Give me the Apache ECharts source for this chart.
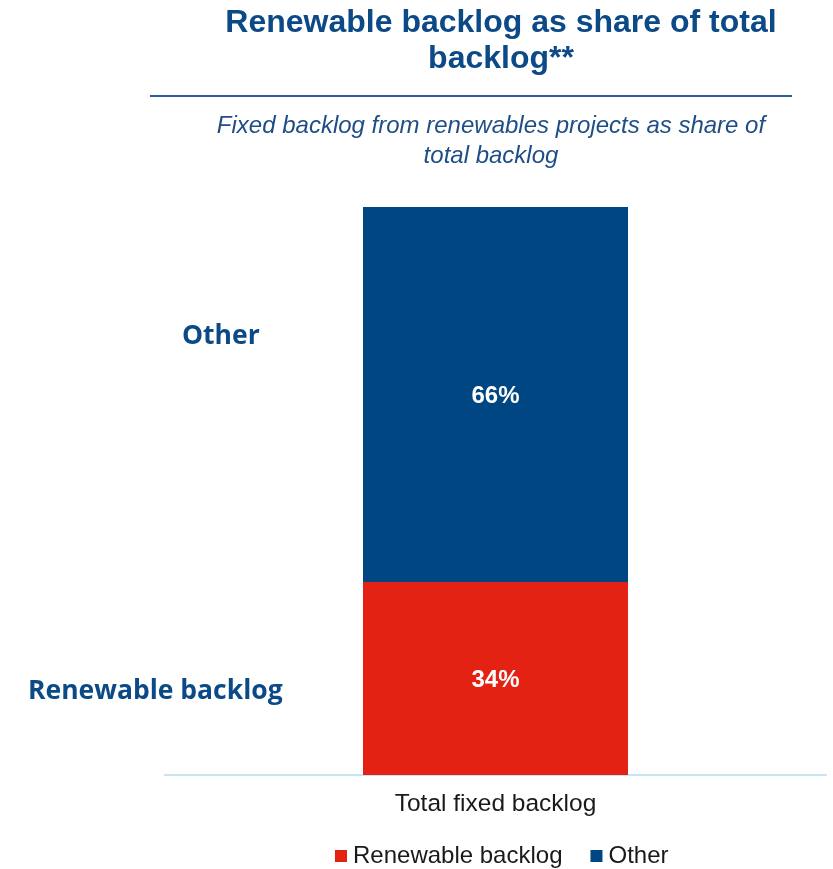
<!DOCTYPE html>
<html>
<head>
<meta charset="utf-8">
<script src="https://cdn.jsdelivr.net/npm/echarts@6/dist/echarts.min.js"></script>
<style>
html,body{margin:0;padding:0;background:#fff;}
#chart{width:833px;height:869px;}
</style>
</head>
<body>
<div id="chart"></div>
<script>
var categories = ['Total fixed backlog'];
var seriesNames = ['Renewable backlog', 'Other'];
var renewableValues = [34];
var otherValues = [66];
var titleText = 'Renewable backlog as share of total\nbacklog**';
var subtitleText = 'Fixed backlog from renewables projects as share of\ntotal backlog';

var BLUE = '#004683';
var RED = '#E32213';
var TITLE = '#0B4A87';

var chart = echarts.init(document.getElementById('chart'));
var option = {
  animation: false,
  backgroundColor: '#fff',
  title: [{
    text: titleText,
    left: 496, top: 0, textAlign: 'center',
    textStyle: {fontFamily: 'Liberation Sans, Arial', fontWeight: 'bold', fontSize: 32, lineHeight: 36, color: TITLE}
  }, {
    text: subtitleText,
    left: 486, top: 106, textAlign: 'center',
    textStyle: {fontFamily: 'Liberation Sans, Arial', fontStyle: 'italic', fontWeight: 'normal', fontSize: 24, lineHeight: 30, color: '#1F4E86'}
  }],
  graphic: [{
    type: 'line', shape: {x1: 150, y1: 96, x2: 792, y2: 96},
    style: {stroke: '#2D5F96', lineWidth: 2}
  }, {
    type: 'text', left: 182, top: 323,
    style: {text: seriesNames[1], fontFamily: 'Open Sans', fontWeight: 'bold', fontSize: 26.5, fill: '#0B4A87'}
  }, {
    type: 'text', left: 28, top: 678,
    style: {text: seriesNames[0], fontFamily: 'Open Sans', fontWeight: 'bold', fontSize: 26.5, fill: '#0B4A87'}
  }],
  legend: {
    top: 839, left: 330,
    itemWidth: 12, itemHeight: 12, itemGap: 28,
    icon: 'rect',
    textStyle: {fontFamily: 'Liberation Sans, Arial', fontSize: 24, color: '#1a1a1a', padding: [0,0,0,1]},
    data: seriesNames
  },
  grid: {left: 165, right: 7, top: 207, bottom: 94},
  xAxis: {
    type: 'category', data: categories,
    axisLine: {lineStyle: {color: '#C7E3F6', width: 2}},
    axisTick: {show: false},
    axisLabel: {fontFamily: 'Liberation Sans, Arial', fontSize: 24.5, color: '#1a1a1a', margin: 17}
  },
  yAxis: {type: 'value', min: 0, max: 100, show: false, splitLine: {show: false}},
  series: [{
    name: seriesNames[0], type: 'bar', stack: 'total', data: renewableValues,
    barWidth: 265, itemStyle: {color: RED},
    label: {show: true, position: 'inside', offset: [0, 2], formatter: '{c}%', color: '#fff', fontWeight: 'bold', fontSize: 24, fontFamily: 'Liberation Sans, Arial'}
  }, {
    name: seriesNames[1], type: 'bar', stack: 'total', data: otherValues,
    barWidth: 265, itemStyle: {color: BLUE},
    label: {show: true, position: 'inside', offset: [0, 2], formatter: '{c}%', color: '#fff', fontWeight: 'bold', fontSize: 24, fontFamily: 'Liberation Sans, Arial'}
  }]
};
chart.setOption(option);
</script>
</body>
</html>
